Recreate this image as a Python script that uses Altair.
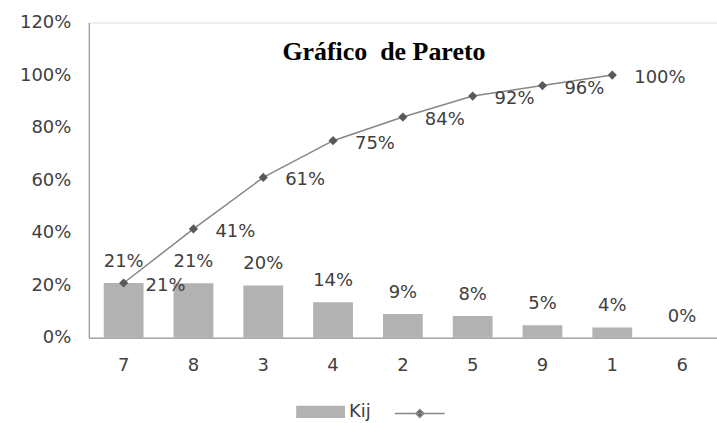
import altair as alt
import pandas as pd

cats = ["7", "8", "3", "4", "2", "5", "9", "1", "6"]
kij = [0.208, 0.207, 0.199, 0.135, 0.090, 0.082, 0.047, 0.039, 0.0]
cum_cats = ["7", "8", "3", "4", "2", "5", "9", "1"]
cum = [0.208, 0.414, 0.61, 0.75, 0.84, 0.92, 0.96, 1.0]
y_ticks = [0, 0.2, 0.4, 0.6, 0.8, 1.0, 1.2]

bars_df = pd.DataFrame({"cat": cats, "kij": kij, "serie": "Kij"})
line_df = pd.DataFrame({"cat": cum_cats, "cum": cum, "serie": " "})

FONT = "DejaVu Sans"
FS = 18
TXT = "#404040"
AX = "#868686"

xscale = alt.Scale(domain=cats, paddingInner=0.43, paddingOuter=0.215)
yscale = alt.Scale(domain=[0, 1.2], nice=False)

x_enc = alt.X("cat:N", scale=xscale, sort=cats,
              axis=alt.Axis(title=None, labelAngle=0, ticks=False, domainColor=AX,
                            labelFont=FONT, labelFontSize=FS, labelColor=TXT,
                            labelPadding=19, grid=False))

bars = alt.Chart(bars_df).mark_bar(color="#b2b2b2").encode(
    x=x_enc,
    y=alt.Y("kij:Q", scale=yscale,
            axis=alt.Axis(title=None, values=y_ticks, format=".0%", ticks=False,
                          grid=False, domainColor=AX, labelFont=FONT,
                          labelFontSize=FS, labelColor=TXT, labelPadding=18)),
    fill=alt.Fill("serie:N", scale=alt.Scale(domain=["Kij"], range=["#b2b2b2"]),
                  legend=alt.Legend(title=None, orient="none", legendX=208, legendY=366,
                                    symbolType="M-1,-0.25H1V0.25H-1Z", symbolSize=2401,
                                    symbolStrokeWidth=0, labelFont=FONT, labelFontSize=FS,
                                    labelColor=TXT, labelOffset=4)),
)

bar_labels = alt.Chart(bars_df).mark_text(font=FONT, fontSize=FS, color=TXT,
                                          baseline="middle", dy=-21).encode(
    x=alt.X("cat:N", scale=xscale, sort=cats),
    y=alt.Y("kij:Q", scale=yscale),
    text=alt.Text("kij:Q", format=".0%"),
)

line = alt.Chart(line_df).mark_line(color=AX, strokeWidth=1.5).encode(
    x=alt.X("cat:N", scale=xscale, sort=cats),
    y=alt.Y("cum:Q", scale=yscale),
    stroke=alt.Stroke("serie:N", scale=alt.Scale(domain=[" "], range=[AX]),
                      legend=alt.Legend(title=None, orient="none", legendX=306, legendY=366,
                                        symbolType="M-1,0H1M0,-0.16L0.16,0L0,0.16L-0.16,0Z",
                                        symbolSize=2500, symbolStrokeWidth=1.5,
                                        symbolFillColor="#595959", labelFontSize=1)),
)

pts = alt.Chart(line_df).mark_point(shape="diamond", filled=True, color="#595959",
                                     size=85, opacity=1).encode(
    x=alt.X("cat:N", scale=xscale, sort=cats),
    y=alt.Y("cum:Q", scale=yscale),
)

line_labels = alt.Chart(line_df).mark_text(font=FONT, fontSize=FS, color=TXT,
                                           align="left", baseline="middle", dx=22, dy=3).encode(
    x=alt.X("cat:N", scale=xscale, sort=cats),
    y=alt.Y("cum:Q", scale=yscale),
    text=alt.Text("cum:Q", format=".0%"),
)

chart = alt.layer(bars, bar_labels, line, pts, line_labels).resolve_legend(
    fill="independent", stroke="independent"
).properties(
    width=630, height=316,
    title=alt.TitleParams("Gráfico\u00a0 de Pareto", font="Liberation Serif", fontSize=26,
                          fontWeight="bold", color="#000000", anchor="middle",
                          dx=-19, dy=52, offset=0),
    autosize=alt.AutoSizeParams(type="none"),
    padding={"left": 89, "top": 22, "right": 0, "bottom": 85},
).configure_view(stroke=None).configure(background="white")

chart.save("out.html", embed_options={"renderer": "svg", "actions": False})
